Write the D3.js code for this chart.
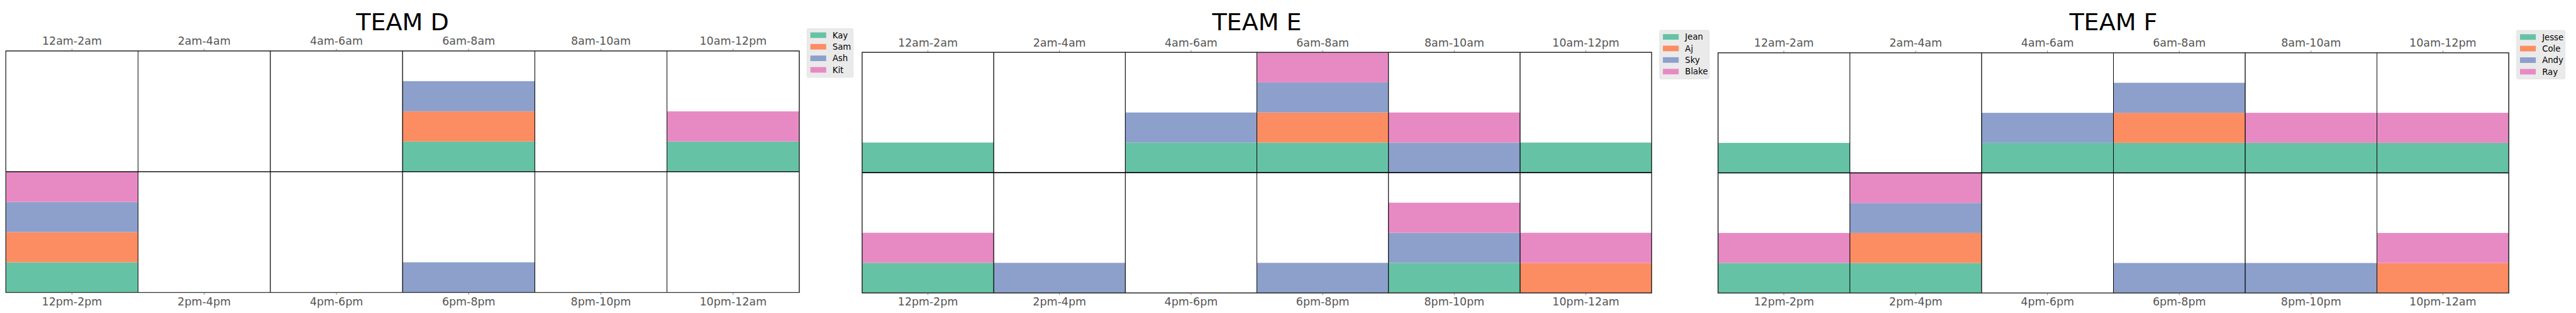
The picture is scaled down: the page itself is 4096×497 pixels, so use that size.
<!DOCTYPE html>
<html>
<head>
<meta charset="utf-8">
<script src="https://cdn.jsdelivr.net/npm/d3@7"></script>
<style>
  html, body { margin: 0; padding: 0; background: #fff; }
  svg { display: block; font-family: "DejaVu Sans", sans-serif; }
</style>
</head>
<body>
<svg id="chart" width="4096" height="497"></svg>
<script>
// ---------------- DATA ----------------
const slotsTop = ["12am-2am", "2am-4am", "4am-6am", "6am-8am", "8am-10am", "10am-12pm"];
const slotsBottom = ["12pm-2pm", "2pm-4pm", "4pm-6pm", "6pm-8pm", "8pm-10pm", "10pm-12am"];
const colors = ["#66c2a5", "#fc8d62", "#8da0cb", "#e78ac3"];

// 1 = available in that slot (first 6 = top row, last 6 = bottom row)
const teamDNames = ["Kay", "Sam", "Ash", "Kit"];
const teamDKay = [0, 0, 0, 1, 0, 1, 1, 0, 0, 0, 0, 0];
const teamDSam = [0, 0, 0, 1, 0, 0, 1, 0, 0, 0, 0, 0];
const teamDAsh = [0, 0, 0, 1, 0, 0, 1, 0, 0, 1, 0, 0];
const teamDKit = [0, 0, 0, 0, 0, 1, 1, 0, 0, 0, 0, 0];

const teamENames = ["Jean", "Aj", "Sky", "Blake"];
const teamEJean = [1, 0, 1, 1, 0, 1, 1, 0, 0, 0, 1, 0];
const teamEAj = [0, 0, 0, 1, 0, 0, 0, 0, 0, 0, 0, 1];
const teamESky = [0, 0, 1, 1, 1, 0, 0, 1, 0, 1, 1, 0];
const teamEBlake = [0, 0, 0, 1, 1, 0, 1, 0, 0, 0, 1, 1];

const teamFNames = ["Jesse", "Cole", "Andy", "Ray"];
const teamFJesse = [1, 0, 1, 1, 1, 1, 1, 1, 0, 0, 0, 0];
const teamFCole = [0, 0, 0, 1, 0, 0, 0, 1, 0, 0, 0, 1];
const teamFAndy = [0, 0, 1, 1, 0, 0, 0, 1, 0, 1, 1, 0];
const teamFRay = [0, 0, 0, 0, 1, 1, 1, 1, 0, 0, 0, 1];

const teams = [
  { title: "TEAM D", names: teamDNames, series: [teamDKay, teamDSam, teamDAsh, teamDKit] },
  { title: "TEAM E", names: teamENames, series: [teamEJean, teamEAj, teamESky, teamEBlake] },
  { title: "TEAM F", names: teamFNames, series: [teamFJesse, teamFCole, teamFAndy, teamFRay] }
];

// ---------------- LAYOUT (reference px) ----------------
const S = 4096 / 6026;
const layout = [
  { l: 13.7, r: 1869.7, t: 119.0, b: 683.3, lx: 1888.0, ly: 66.7, lw: 107.7, lh: 114.0 },
  { l: 2016.7, r: 3863.7, t: 122.3, b: 684.3, lx: 3882.3, ly: 70.7, lw: 116.0, lh: 113.6 },
  { l: 4019.0, r: 5868.7, t: 123.3, b: 684.5, lx: 5887.3, ly: 71.0, lw: 113.0, lh: 113.3 }
];

const svg = d3.select("#chart");

teams.forEach((team, ti) => {
  const L = layout[ti];
  const l = L.l * S, r = L.r * S, t = L.t * S, b = L.b * S;
  const mid = (t + b) / 2;
  const g = svg.append("g");

  const xTop = d3.scaleBand().domain(slotsTop).range([l, r]).padding(0);
  const xBot = d3.scaleBand().domain(slotsBottom).range([l, r]).padding(0);
  const yTop = d3.scaleLinear().domain([0, 4]).range([mid, t]);
  const yBot = d3.scaleLinear().domain([0, 4]).range([b, mid]);

  // table of slots for stacking
  const rows = d3.range(12).map(i => {
    const o = { i };
    team.names.forEach((n, k) => { o[n] = team.series[k][i]; });
    return o;
  });
  const stacked = d3.stack().keys(team.names)(rows);

  // bars
  stacked.forEach((layer, k) => {
    g.append("g").selectAll("rect")
      .data(layer.filter(d => d[1] > d[0]))
      .join("rect")
      .attr("x", d => d.data.i < 6 ? xTop(slotsTop[d.data.i]) : xBot(slotsBottom[d.data.i - 6]))
      .attr("width", xTop.bandwidth())
      .attr("y", d => d.data.i < 6 ? yTop(d[1]) : yBot(d[1]))
      .attr("height", d => d.data.i < 6 ? yTop(d[0]) - yTop(d[1]) : yBot(d[0]) - yBot(d[1]))
      .attr("fill", colors[k]);
  });

  // cell grid
  const cells = g.append("g");
  [[xTop, slotsTop, yTop], [xBot, slotsBottom, yBot]].forEach(([x, slots, y]) => {
    cells.selectAll(null)
      .data(slots)
      .join("rect")
      .attr("x", d => x(d))
      .attr("width", x.bandwidth())
      .attr("y", y(4))
      .attr("height", y(0) - y(4))
      .attr("fill", "none")
      .attr("stroke", "#000")
      .attr("stroke-width", 0.8);
  });
  g.append("line").attr("x1", l).attr("x2", r).attr("y1", mid).attr("y2", mid)
    .attr("stroke", "#000").attr("stroke-width", 1.4);
  g.append("rect").attr("x", l).attr("y", t).attr("width", r - l).attr("height", b - t)
    .attr("fill", "none").attr("stroke", "#333").attr("stroke-width", 1.3);

  // axes
  const fs = 25.7 * S;
  const axT = g.append("g").attr("transform", `translate(0,${t})`)
    .call(d3.axisTop(xTop).tickSize(5 * S).tickPadding(9 * S).tickSizeOuter(0));
  const axB = g.append("g").attr("transform", `translate(0,${b})`)
    .call(d3.axisBottom(xBot).tickSize(5 * S).tickPadding(6.5 * S).tickSizeOuter(0));
  [axT, axB].forEach(ax => {
    ax.select(".domain").remove();
    ax.selectAll(".tick line").attr("stroke", "#555").attr("stroke-width", 0.8);
    ax.selectAll(".tick text").attr("fill", "#555")
      .attr("font-size", fs).attr("font-family", "DejaVu Sans, sans-serif");
  });

  // title
  g.append("text")
    .attr("x", (l + r) / 2)
    .attr("y", 70 * S)
    .attr("text-anchor", "middle")
    .attr("font-size", 56 * S)
    .attr("fill", "#000")
    .text(team.title);

  // legend
  const lg = g.append("g").attr("transform", `translate(${L.lx * S},${L.ly * S})`);
  lg.append("rect").attr("width", L.lw * S).attr("height", L.lh * S)
    .attr("rx", 3 * S).attr("fill", "#eaeaea").attr("stroke", "#dddddd").attr("stroke-width", 0.8);
  const items = lg.selectAll("g.item").data(team.names).join("g")
    .attr("class", "item")
    .attr("transform", (d, k) => `translate(0,${(9 + k * 27) * S})`);
  items.append("rect").attr("x", 7.7 * S).attr("width", 37 * S).attr("height", 13 * S)
    .attr("fill", (d, k) => colors[k]);
  items.append("text").attr("x", 59.5 * S).attr("y", 13.6 * S)
    .attr("font-size", 19.5 * S).attr("fill", "#000").text(d => d);
});
</script>
</body>
</html>
